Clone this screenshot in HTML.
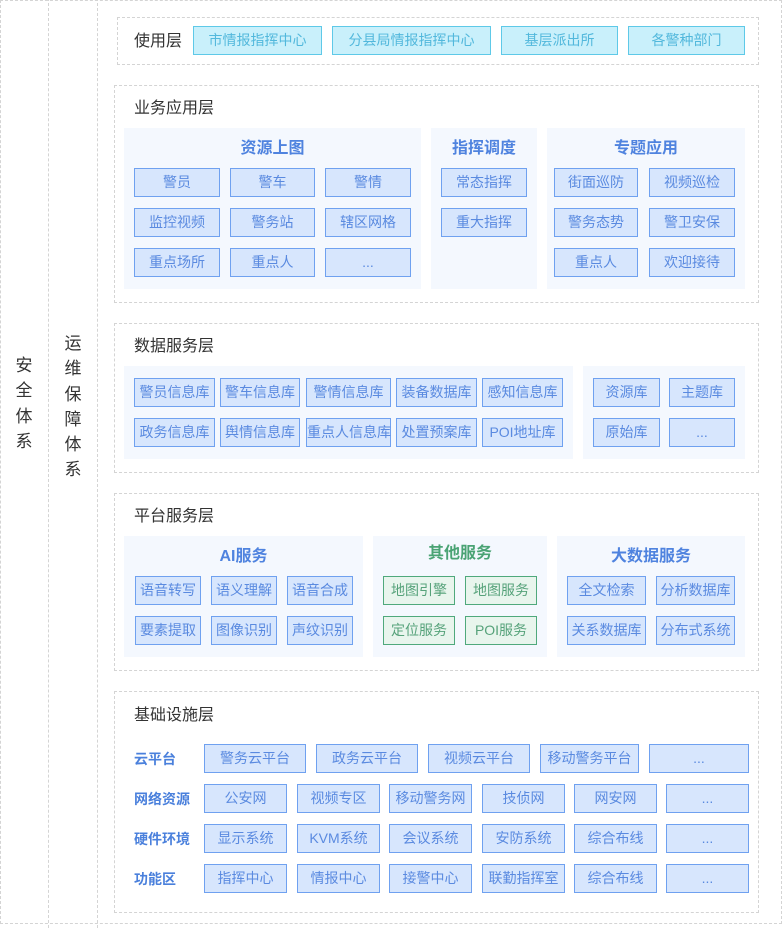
<!DOCTYPE html>
<html><head><meta charset="utf-8"><style>
*{margin:0;padding:0;box-sizing:border-box}
body{width:782px;height:925px;background:#fff;position:relative;font-family:"Liberation Sans","Noto Sans CJK SC",sans-serif;overflow:hidden}
.d{position:absolute;border:1px dashed #d4d4d4}
.p{position:absolute;background:#f4f8fe}
.b{position:absolute;height:29px;line-height:27px;text-align:center;font-size:14px;background:#d7e6fd;border:1px solid #6fa1f0;color:#5a8ae0;white-space:nowrap}
.c{background:#c9f0fb;border-color:#5ec9e8;color:#52b8dc}
.g{background:#e8f5ed;border-color:#4fa97c;color:#56a27a}
.l{position:absolute;font-size:16px;color:#333;line-height:18px}
.t{position:absolute;font-size:16px;font-weight:bold;color:#4f83df;text-align:center;line-height:20px}
.r{position:absolute;font-size:14px;font-weight:bold;color:#4a80dc;line-height:16px}
.v{position:absolute;font-size:17px;color:#333;width:20px;text-align:center;line-height:25.3px}
</style></head><body>
<div class="d" style="left:0;top:0;width:782px;height:924px"></div>
<div class="d" style="left:48px;top:-2px;width:0;height:930px;border-width:0 0 0 1px"></div>
<div class="d" style="left:97px;top:-2px;width:0;height:930px;border-width:0 0 0 1px"></div>
<div class="v" style="left:14px;top:353px">安<br>全<br>体<br>系</div>
<div class="v" style="left:63px;top:331px">运<br>维<br>保<br>障<br>体<br>系</div>

<div class="d" style="left:117px;top:17px;width:642px;height:48px"></div>
<div class="l" style="left:134px;top:33px">使用层</div>
<div class="b c" style="left:193px;top:26px;width:129px">市情报指挥中心</div>
<div class="b c" style="left:332px;top:26px;width:159px">分县局情报指挥中心</div>
<div class="b c" style="left:501px;top:26px;width:117px">基层派出所</div>
<div class="b c" style="left:628px;top:26px;width:117px">各警种部门</div>

<div class="d" style="left:114px;top:85px;width:645px;height:218px"></div>
<div class="l" style="left:134px;top:100px">业务应用层</div>
<div class="p" style="left:124px;top:128px;width:297px;height:161px"></div>
<div class="p" style="left:431px;top:128px;width:106px;height:161px"></div>
<div class="p" style="left:547px;top:128px;width:198px;height:161px"></div>
<div class="t" style="left:124px;top:139px;width:297px">资源上图</div>
<div class="t" style="left:431px;top:139px;width:106px">指挥调度</div>
<div class="t" style="left:547px;top:139px;width:198px">专题应用</div>
<div class="b" style="left:134px;top:168px;width:86px">警员</div>
<div class="b" style="left:230px;top:168px;width:85px">警车</div>
<div class="b" style="left:325px;top:168px;width:86px">警情</div>
<div class="b" style="left:134px;top:208px;width:86px">监控视频</div>
<div class="b" style="left:230px;top:208px;width:85px">警务站</div>
<div class="b" style="left:325px;top:208px;width:86px">辖区网格</div>
<div class="b" style="left:134px;top:248px;width:86px">重点场所</div>
<div class="b" style="left:230px;top:248px;width:85px">重点人</div>
<div class="b" style="left:325px;top:248px;width:86px">...</div>
<div class="b" style="left:441px;top:168px;width:86px">常态指挥</div>
<div class="b" style="left:441px;top:208px;width:86px">重大指挥</div>
<div class="b" style="left:554px;top:168px;width:84px">街面巡防</div>
<div class="b" style="left:649px;top:168px;width:86px">视频巡检</div>
<div class="b" style="left:554px;top:208px;width:84px">警务态势</div>
<div class="b" style="left:649px;top:208px;width:86px">警卫安保</div>
<div class="b" style="left:554px;top:248px;width:84px">重点人</div>
<div class="b" style="left:649px;top:248px;width:86px">欢迎接待</div>

<div class="d" style="left:114px;top:323px;width:645px;height:150px"></div>
<div class="l" style="left:134px;top:338px">数据服务层</div>
<div class="p" style="left:124px;top:366px;width:449px;height:93px"></div>
<div class="p" style="left:583px;top:366px;width:162px;height:93px"></div>
<div class="b" style="left:134px;top:378px;width:81px">警员信息库</div>
<div class="b" style="left:220px;top:378px;width:80px">警车信息库</div>
<div class="b" style="left:306px;top:378px;width:85px">警情信息库</div>
<div class="b" style="left:396px;top:378px;width:81px">装备数据库</div>
<div class="b" style="left:482px;top:378px;width:81px">感知信息库</div>
<div class="b" style="left:134px;top:418px;width:81px">政务信息库</div>
<div class="b" style="left:220px;top:418px;width:80px">舆情信息库</div>
<div class="b" style="left:306px;top:418px;width:85px">重点人信息库</div>
<div class="b" style="left:396px;top:418px;width:81px">处置预案库</div>
<div class="b" style="left:482px;top:418px;width:81px">POI地址库</div>
<div class="b" style="left:593px;top:378px;width:67px">资源库</div>
<div class="b" style="left:669px;top:378px;width:66px">主题库</div>
<div class="b" style="left:593px;top:418px;width:67px">原始库</div>
<div class="b" style="left:669px;top:418px;width:66px">...</div>

<div class="d" style="left:114px;top:493px;width:645px;height:178px"></div>
<div class="l" style="left:134px;top:508px">平台服务层</div>
<div class="p" style="left:124px;top:536px;width:239px;height:121px"></div>
<div class="p" style="left:373px;top:536px;width:174px;height:121px"></div>
<div class="p" style="left:557px;top:536px;width:188px;height:121px"></div>
<div class="t" style="left:124px;top:547px;width:239px">AI服务</div>
<div class="t" style="left:373px;top:544px;width:174px;color:#4aa374">其他服务</div>
<div class="t" style="left:557px;top:547px;width:188px">大数据服务</div>
<div class="b" style="left:135px;top:576px;width:66px">语音转写</div>
<div class="b" style="left:211px;top:576px;width:66px">语义理解</div>
<div class="b" style="left:287px;top:576px;width:66px">语音合成</div>
<div class="b" style="left:135px;top:616px;width:66px">要素提取</div>
<div class="b" style="left:211px;top:616px;width:66px">图像识别</div>
<div class="b" style="left:287px;top:616px;width:66px">声纹识别</div>
<div class="b g" style="left:383px;top:576px;width:72px">地图引擎</div>
<div class="b g" style="left:465px;top:576px;width:72px">地图服务</div>
<div class="b g" style="left:383px;top:616px;width:72px">定位服务</div>
<div class="b g" style="left:465px;top:616px;width:72px">POI服务</div>
<div class="b" style="left:567px;top:576px;width:79px">全文检索</div>
<div class="b" style="left:656px;top:576px;width:79px">分析数据库</div>
<div class="b" style="left:567px;top:616px;width:79px">关系数据库</div>
<div class="b" style="left:656px;top:616px;width:79px">分布式系统</div>

<div class="d" style="left:114px;top:691px;width:645px;height:222px"></div>
<div class="l" style="left:134px;top:707px">基础设施层</div>
<div class="r" style="left:134px;top:751px">云平台</div>
<div class="r" style="left:134px;top:791px">网络资源</div>
<div class="r" style="left:134px;top:831px">硬件环境</div>
<div class="r" style="left:134px;top:871px">功能区</div>
<div class="b" style="left:204px;top:744px;width:102px">警务云平台</div>
<div class="b" style="left:316px;top:744px;width:102px">政务云平台</div>
<div class="b" style="left:428px;top:744px;width:102px">视频云平台</div>
<div class="b" style="left:540px;top:744px;width:99px">移动警务平台</div>
<div class="b" style="left:649px;top:744px;width:100px">...</div>
<div class="b" style="left:204px;top:784px;width:83px">公安网</div>
<div class="b" style="left:297px;top:784px;width:83px">视频专区</div>
<div class="b" style="left:389px;top:784px;width:83px">移动警务网</div>
<div class="b" style="left:482px;top:784px;width:83px">技侦网</div>
<div class="b" style="left:574px;top:784px;width:83px">网安网</div>
<div class="b" style="left:666px;top:784px;width:83px">...</div>
<div class="b" style="left:204px;top:824px;width:83px">显示系统</div>
<div class="b" style="left:297px;top:824px;width:83px">KVM系统</div>
<div class="b" style="left:389px;top:824px;width:83px">会议系统</div>
<div class="b" style="left:482px;top:824px;width:83px">安防系统</div>
<div class="b" style="left:574px;top:824px;width:83px">综合布线</div>
<div class="b" style="left:666px;top:824px;width:83px">...</div>
<div class="b" style="left:204px;top:864px;width:83px">指挥中心</div>
<div class="b" style="left:297px;top:864px;width:83px">情报中心</div>
<div class="b" style="left:389px;top:864px;width:83px">接警中心</div>
<div class="b" style="left:482px;top:864px;width:83px">联勤指挥室</div>
<div class="b" style="left:574px;top:864px;width:83px">综合布线</div>
<div class="b" style="left:666px;top:864px;width:83px">...</div>
</body></html>
